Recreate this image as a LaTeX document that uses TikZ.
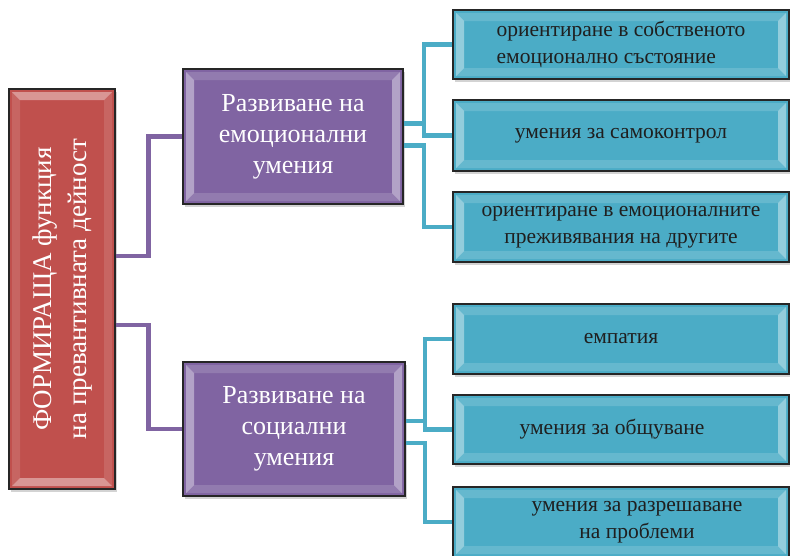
\documentclass[tikz,border=0pt]{standalone}
\usepackage{graphicx}
\usepackage{fontspec}
\setmainfont{Liberation Serif}
\usetikzlibrary{shadows}
\definecolor{redbox}{HTML}{C0504D}
\definecolor{purplebox}{HTML}{8064A2}
\definecolor{tealbox}{HTML}{4BACC6}
\definecolor{darktext}{HTML}{1F1F1F}
\tikzset{
  bevel/.style 2 args={path picture={
    \fill[white,opacity=#1]
      ([shift={(3pt,-3pt)}]path picture bounding box.north west) --
      ([shift={(11pt,-11pt)}]path picture bounding box.north west) --
      ([shift={(11pt,11pt)}]path picture bounding box.south west) --
      ([shift={(3pt,3pt)}]path picture bounding box.south west) -- cycle;
    \fill[white,opacity=#1]
      ([shift={(-3pt,-3pt)}]path picture bounding box.north east) --
      ([shift={(-11pt,-11pt)}]path picture bounding box.north east) --
      ([shift={(-11pt,11pt)}]path picture bounding box.south east) --
      ([shift={(-3pt,3pt)}]path picture bounding box.south east) -- cycle;
    \fill[white,opacity=#2]
      ([shift={(3pt,-3pt)}]path picture bounding box.north west) --
      ([shift={(-3pt,-3pt)}]path picture bounding box.north east) --
      ([shift={(-11pt,-11pt)}]path picture bounding box.north east) --
      ([shift={(11pt,-11pt)}]path picture bounding box.north west) -- cycle;
    \fill[white,opacity=#2]
      ([shift={(3pt,3pt)}]path picture bounding box.south west) --
      ([shift={(-3pt,3pt)}]path picture bounding box.south east) --
      ([shift={(-11pt,11pt)}]path picture bounding box.south east) --
      ([shift={(11pt,11pt)}]path picture bounding box.south west) -- cycle;
  }},
  box/.style={draw=black!85, line width=1.3pt, inner sep=0pt,
    drop shadow={shadow xshift=2pt, shadow yshift=-2.5pt, opacity=0.35}},
  redstyle/.style={box, fill=redbox, bevel={0.12}{0.4}, minimum width=106pt,
    minimum height=400pt, text=white, font=\fontsize{27}{35}\selectfont},
  purplestyle/.style={box, fill=purplebox, bevel={0.4}{0.15}, minimum width=220pt,
    minimum height=135pt, text=white, align=center, font=\fontsize{26}{31}\selectfont},
  tealstyle/.style={box, fill=tealbox, bevel={0.4}{0.15}, minimum width=336pt,
    minimum height=70pt, text=darktext, align=center, font=\fontsize{21.5}{27}\selectfont},
  purpleline/.style={draw=purplebox, line width=4.5pt},
  tealline/.style={draw=tealbox, line width=4.5pt},
}
\begin{document}
\begin{tikzpicture}[x=1pt, y=-1pt]
\useasboundingbox (0,0) rectangle (790,555);
\begin{scope}
\clip (0,0) rectangle (790,555);

\node[redstyle] (r) at (62,289)
  {\rotatebox{90}{\begin{tabular}{@{}c@{}}ФОРМИРАЩА функция\\на превантивната дейност\end{tabular}}};

\node[purplestyle] (p1) at (293,136.5) {Развиване на\\емоционални\\умения};
\node[purplestyle, minimum width=222pt, minimum height=134pt] (p2) at (294,429) {Развиване на\\социални\\умения};

\node[tealstyle, align=left, minimum height=69pt] (t1) at (621,44.5) {ориентиране в собственото\\емоционално състояние};
\node[tealstyle, minimum height=71pt] (t2) at (621,135.5) {умения за самоконтрол};
\node[tealstyle] (t3) at (621,227) {ориентиране в емоционалните\\преживявания на другите};
\node[tealstyle] (t4) at (621,339) {емпатия};
\node[tealstyle, minimum height=69pt] (t5) at (621,429.5) {\hspace*{-18pt}умения за общуване};
\node[tealstyle] (t6) at (621,522) {\hspace*{32pt}умения за разрешаване\\\hspace*{32pt}на проблеми};

\draw[purpleline] ([yshift=33pt]r.east) -- ++(33,0) |- (p1.west);
\draw[purpleline] ([yshift=-36pt]r.east) -- ++(33,0) |- (p2.west);

\draw[tealline] ([yshift=13pt]p1.east) -- ++(20.5,0) coordinate (j1) |- (t1.west);
\draw[tealline] ([yshift=-9pt]p1.east) -- ++(20.5,0) |- (t3.west);
\draw[tealline] (j1) |- (t2.west);

\draw[tealline] ([yshift=8pt]p2.east) -- ++(19.5,0) coordinate (j2) |- (t4.west);
\draw[tealline] ([yshift=-14pt]p2.east) -- ++(19.5,0) |- (t6.west);
\draw[tealline] (j2) |- (t5.west);
\end{scope}
\end{tikzpicture}
\end{document}
